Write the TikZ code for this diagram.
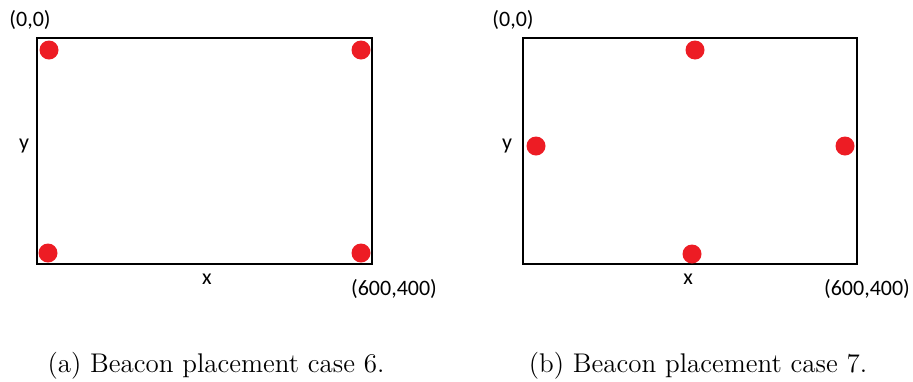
\documentclass[tikz,border=0pt]{standalone}
\usepackage{fontspec}
\newfontfamily\etiqfont{Carlito}
\usepackage{tikz}
\usetikzlibrary{positioning}
\definecolor{rougebalise}{RGB}{237,28,36}

\begin{document}
\begin{tikzpicture}[x=0.5pt,y=-0.5pt,
    balise/.style={circle, fill=rougebalise, inner sep=0pt, minimum size=9.5pt},
    etiquette/.style={font=\etiqfont\fontsize{11}{13}\selectfont, inner sep=0pt},
    legende/.style={font=\fontsize{13.5}{16}\selectfont, inner sep=0pt},
    salle/.style={draw, line width=1.25pt}]
            \useasboundingbox (0,0) rectangle (913,381);

            % Cas 6 : une balise dans chaque coin
            \draw[salle] (37,38) rectangle (372,264);
            \node[balise] (a1) at (49,50) {};
            \node[balise] (a2) at (361,50) {};
            \node[balise] (a3) at (48,253) {};
            \node[balise] (a4) at (361,253) {};
            \node[etiquette] (oa) at (30,20) {(0,0)};
            \node[etiquette] (ya) at (24,146) {y};
            \node[etiquette] (xa) at (207,279) {x};
            \node[etiquette] (fa) at (394,289) {(600,400)};

            % Cas 7 : une balise au milieu de chaque côté
            \draw[salle] (523,38) rectangle (857,264);
            \node[balise] (b1) at (695,50) {};
            \node[balise] (b2) at (536,146) {};
            \node[balise] (b3) at (845,146) {};
            \node[balise] (b4) at (692,254) {};
            \node[etiquette] (ob) at (513,20) {(0,0)};
            \node[etiquette] (yb) at (507,146) {y};
            \node[etiquette] (xb) at (688,279) {x};
            \node[etiquette] (fb) at (867,289) {(600,400)};

            % Légendes
            \node[legende] (la) at (216,366) {(a) Beacon placement case 6.};
            \node[legende] (lb) at (698,366) {(b) Beacon placement case 7.};
        \end{tikzpicture}
\end{document}
